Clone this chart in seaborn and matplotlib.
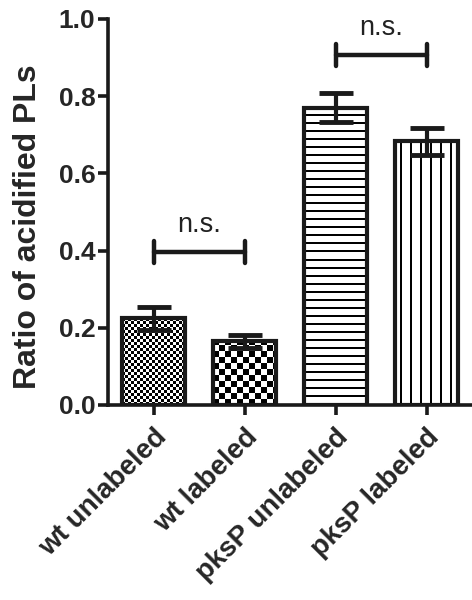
import numpy as np
import pandas as pd
import matplotlib
matplotlib.use("Agg")
import matplotlib.pyplot as plt
import seaborn as sns

categories = ["wt unlabeled", "wt labeled", "pksP unlabeled", "pksP labeled"]
means = [0.225, 0.165, 0.770, 0.683]
sems = [0.030, 0.017, 0.037, 0.035]
yticks = [0.0, 0.2, 0.4, 0.6, 0.8, 1.0]
ytick_labels = ["0.0", "0.2", "0.4", "0.6", "0.8", "1.0"]
brackets = [(0, 1, 0.397, "n.s."), (2, 3, 0.907, "n.s.")]
ylabel = "Ratio of acidified PLs"

sns.set_theme(style="ticks")
plt.rcParams["font.family"] = ["Liberation Sans", "DejaVu Sans"]

fig = plt.figure(figsize=(4.72, 6.0), dpi=100)
ax = fig.add_axes([108 / 472, 195 / 600, 364 / 472, 386 / 600])

df = pd.DataFrame({"cat": categories, "val": means})
sns.barplot(data=df, x="cat", y="val", ax=ax, color="white", width=0.69,
            edgecolor="#1a1a1a", linewidth=3.0, zorder=3)

ax.set_xlim(-0.5, 3.5)
ax.set_ylim(0, 1.0)
patches = ax.patches
fig.canvas.draw()


def fill_pattern(patch, kind, period, thick=2):
    x0 = patch.get_x(); w = patch.get_width()
    y0 = patch.get_y(); h = patch.get_height()
    p0 = ax.transData.transform((x0, y0))
    p1 = ax.transData.transform((x0 + w, y0 + h))
    wpx = int(round(abs(p1[0] - p0[0])))
    hpx = int(round(abs(p1[1] - p0[1])))
    yy, xx = np.indices((hpx, wpx))
    if kind == "checker":
        img = ((xx // period + yy // period) % 2).astype(float)
    elif kind == "hlines":
        img = ((yy % period) >= thick).astype(float)
    else:
        img = (((xx + period // 2) % period) >= thick).astype(float)
    im = ax.imshow(img, cmap="gray", vmin=0, vmax=1, extent=(x0, x0 + w, y0, y0 + h),
                   aspect="auto", interpolation="nearest", zorder=2.5, origin="lower")
    im.set_clip_path(patch)
    patch.set_facecolor("none")


fill_pattern(patches[0], "checker", 3)
fill_pattern(patches[1], "checker", 6)
fill_pattern(patches[2], "hlines", 8)
fill_pattern(patches[3], "vlines", 10)
ax.set_xlim(-0.5, 3.5)
ax.set_ylim(0, 1.0)

ax.errorbar(x=np.arange(len(categories)), y=means, yerr=sems, fmt="none",
            ecolor="#1a1a1a", elinewidth=3.0, capsize=12.5, capthick=3.5, zorder=4)

for a, b, y, txt in brackets:
    ax.plot([a, b], [y, y], color="#1a1a1a", lw=3.2, solid_capstyle="round", zorder=5, clip_on=False)
    for xx in (a, b):
        ax.plot([xx, xx], [y - 0.028, y + 0.028], color="#1a1a1a", lw=3.2,
                solid_capstyle="round", zorder=5, clip_on=False)
    ax.text((a + b) / 2, y + 0.035, txt, ha="center", va="bottom", fontsize=19.5,
            color="#222222", clip_on=False)

sns.despine(ax=ax, top=True, right=True)
for s in ("left", "bottom"):
    ax.spines[s].set_linewidth(2.6)
    ax.spines[s].set_color("#1a1a1a")

ax.set_yticks(yticks)
ax.set_yticklabels(ytick_labels, fontsize=19, fontweight="bold")
ax.set_xticks(range(len(categories)))
ax.set_xticklabels(categories, rotation=45, ha="right", rotation_mode="anchor",
                   fontsize=20, fontweight="bold")
ax.tick_params(axis="both", width=2.6, length=7, color="#1a1a1a", pad=2)
ax.tick_params(axis="x", pad=7)
ax.set_xlabel("")
ax.set_ylabel(ylabel, fontsize=23, fontweight="bold")
ax.yaxis.label.set_va("center")
ax.yaxis.set_label_coords((28 - 108) / 364, (405 - 227) / 386)

fig.savefig("out.png", dpi=100)
